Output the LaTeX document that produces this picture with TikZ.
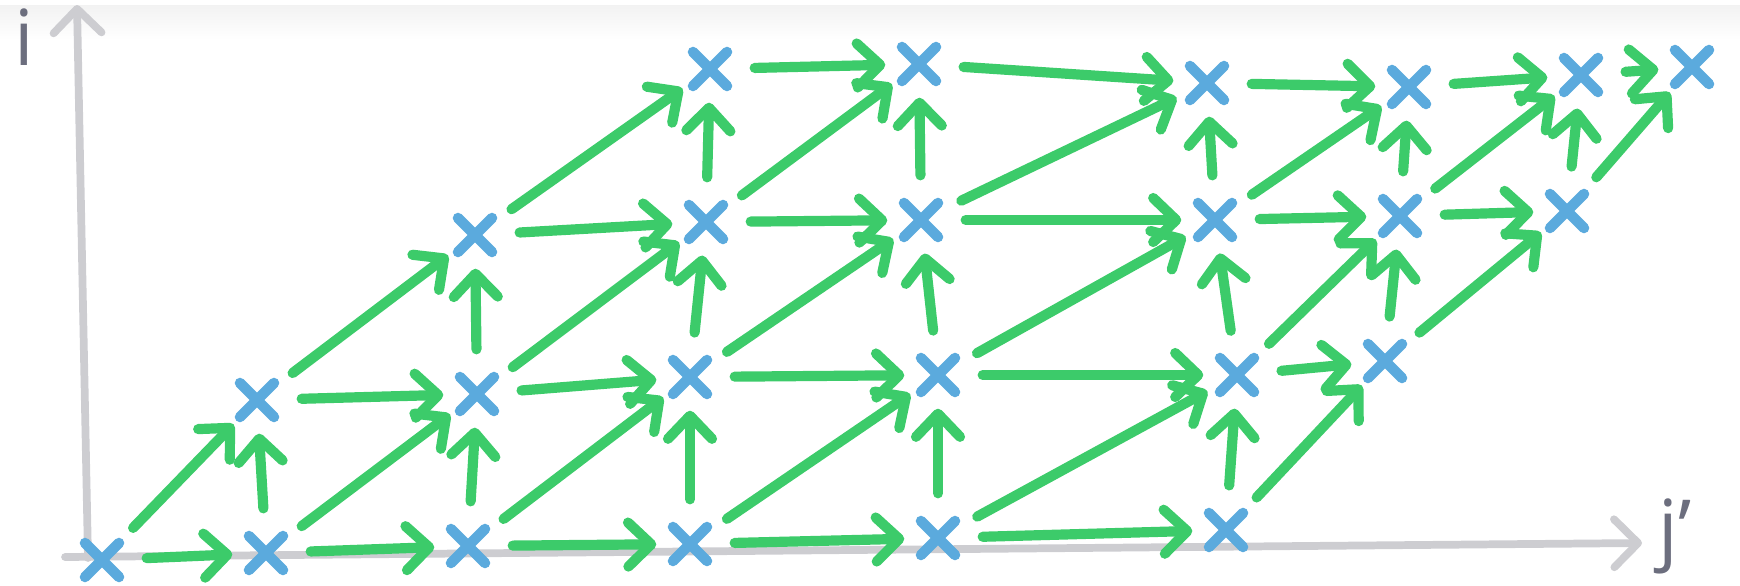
\documentclass[tikz,border=0pt]{standalone}
\usepackage{fontspec}
\setmainfont{Open Sans}
\usepackage{xcolor}
\usepackage{tikz}
\usetikzlibrary{arrows.meta}

\definecolor{flowgreen}{HTML}{3CCB6A}
\definecolor{siteblue}{HTML}{5BAADD}
\definecolor{axisgray}{HTML}{CDCDD1}
\definecolor{labelgray}{HTML}{6C6E7E}

\begin{document}
\begin{tikzpicture}[
    site/.style={circle, minimum size=6.6mm, inner sep=0pt,
        path picture={\draw[siteblue, line width=3pt, line cap=round]
            (path picture bounding box.center) ++(-1.7mm,-1.7mm) -- ++(3.4mm,3.4mm)
            ++(0,-3.4mm) -- ++(-3.4mm,3.4mm);}},
    flow/.style={draw=flowgreen, line width=2.9pt, line cap=round, shorten <=1.1mm,
        -{Straight Barb[round, length=2.3mm, width=4.4mm]}},
    axis/.style={draw=axisgray, line width=2.2pt, line cap=round, -{Straight Barb[round, length=2.4mm, width=4.8mm]}},
    axislabel/.style={text=labelgray, font=\fontsize{22}{22}\selectfont, inner sep=0pt}
]
    \useasboundingbox (0,0) rectangle (17.4,5.85);
    % faint strip along the top edge
    \shade[top color=black!5, bottom color=white] (0,5.45) rectangle (17.4,5.80);

    % Axes
    \coordinate (origin) at (0.88,0.27);
    \coordinate (itop) at (0.77,5.80);
    \coordinate (jend) at (16.42,0.42);
    \draw[axis] (origin) -- (itop);
    \draw[axis] (0.65,0.28) -- (jend);
    \node[axislabel, anchor=base] (ilabel) at (0.24,5.20) {i};
    \node[axislabel, anchor=base west] (jlabel) at (16.58,0.30) {j'};

    % Lattice points, row 0
    \node[site] (p00) at (1.02,0.25) {};
    \node[site] (p01) at (2.66,0.32) {};
    \node[site] (p02) at (4.68,0.39) {};
    \node[site] (p03) at (6.90,0.41) {};
    \node[site] (p04) at (9.38,0.47) {};
    \node[site] (p05) at (12.26,0.55) {};
    % row 1
    \node[site] (p11) at (2.57,1.85) {};
    \node[site] (p12) at (4.77,1.91) {};
    \node[site] (p13) at (6.90,2.08) {};
    \node[site] (p14) at (9.38,2.10) {};
    \node[site] (p15) at (12.37,2.10) {};
    \node[site] (p16) at (13.85,2.24) {};
    % row 2
    \node[site] (p22) at (4.75,3.50) {};
    \node[site] (p23) at (7.06,3.63) {};
    \node[site] (p24) at (9.21,3.65) {};
    \node[site] (p25) at (12.15,3.65) {};
    \node[site] (p26) at (14.00,3.69) {};
    \node[site] (p27) at (15.67,3.74) {};
    % row 3
    \node[site] (p33) at (7.10,5.16) {};
    \node[site] (p34) at (9.19,5.21) {};
    \node[site] (p35) at (12.07,5.02) {};
    \node[site] (p36) at (14.09,4.98) {};
    \node[site] (p37) at (15.81,5.10) {};
    \node[site] (p38) at (16.92,5.18) {};

    % Steps along a row
    \draw[flow] (p00) -- (p01);
    \draw[flow] (p01) -- (p02);
    \draw[flow] (p02) -- (p03);
    \draw[flow] (p03) -- (p04);
    \draw[flow] (p04) -- (p05);
    \draw[flow] (p11) -- (p12);
    \draw[flow] (p12) -- (p13);
    \draw[flow] (p13) -- (p14);
    \draw[flow] (p14) -- (p15);
    \draw[flow] (p15) -- (p16);
    \draw[flow] (p22) -- (p23);
    \draw[flow] (p23) -- (p24);
    \draw[flow] (p24) -- (p25);
    \draw[flow] (p25) -- (p26);
    \draw[flow] (p26) -- (p27);
    \draw[flow] (p33) -- (p34);
    \draw[flow] (p34) -- (p35);
    \draw[flow] (p35) -- (p36);
    \draw[flow] (p36) -- (p37);
    \draw[flow] (p37) -- (p38);

    % Steps straight up
    \draw[flow] (p01) -- (p11);
    \draw[flow] (p02) -- (p12);
    \draw[flow] (p03) -- (p13);
    \draw[flow] (p04) -- (p14);
    \draw[flow] (p05) -- (p15);
    \draw[flow] (p12) -- (p22);
    \draw[flow] (p13) -- (p23);
    \draw[flow] (p14) -- (p24);
    \draw[flow] (p15) -- (p25);
    \draw[flow] (p16) -- (p26);
    \draw[flow] (p23) -- (p33);
    \draw[flow] (p24) -- (p34);
    \draw[flow] (p25) -- (p35);
    \draw[flow] (p26) -- (p36);
    \draw[flow] (p27) -- (p37);

    % Diagonal steps
    \draw[flow] (p00) -- (p11);
    \draw[flow] (p01) -- (p12);
    \draw[flow] (p02) -- (p13);
    \draw[flow] (p03) -- (p14);
    \draw[flow] (p04) -- (p15);
    \draw[flow] (p05) -- (p16);
    \draw[flow] (p11) -- (p22);
    \draw[flow] (p12) -- (p23);
    \draw[flow] (p13) -- (p24);
    \draw[flow] (p14) -- (p25);
    \draw[flow] (p15) -- (p26);
    \draw[flow] (p16) -- (p27);
    \draw[flow] (p22) -- (p33);
    \draw[flow] (p23) -- (p34);
    \draw[flow] (p24) -- (p35);
    \draw[flow] (p25) -- (p36);
    \draw[flow] (p26) -- (p37);
    \draw[flow] (p27) -- (p38);
\end{tikzpicture}
\end{document}
